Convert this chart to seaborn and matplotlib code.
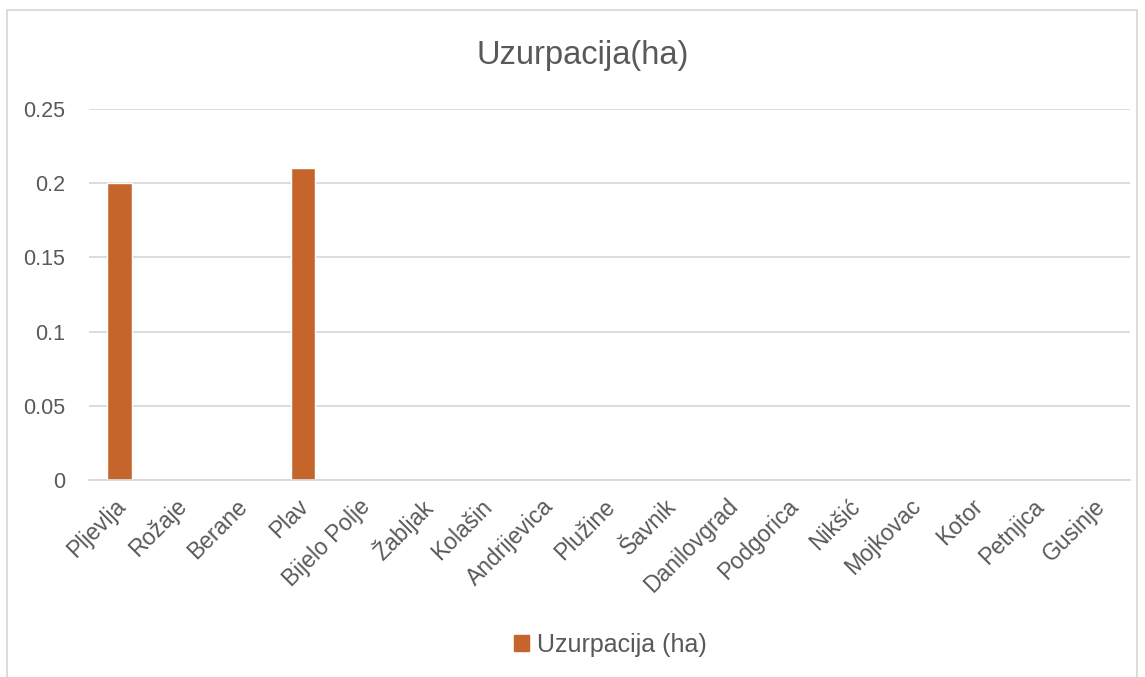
import matplotlib
matplotlib.use('Agg')
import matplotlib.pyplot as plt
import matplotlib.patches as mpatches
import seaborn as sns
import pandas as pd

# data
municipalities = ['Pljevlja', 'Rožaje', 'Berane', 'Plav', 'Bijelo Polje', 'Žabljak',
                  'Kolašin', 'Andrijevica', 'Plužine', 'Šavnik', 'Danilovgrad',
                  'Podgorica', 'Nikšić', 'Mojkovac', 'Kotor', 'Petnjica', 'Gusinje']
uzurpacija = [0.2, 0, 0, 0.21, 0, 0, 0, 0, 0, 0, 0, 0, 0, 0, 0, 0, 0]
series_name = 'Uzurpacija (ha)'
y_ticks = [0, 0.05, 0.1, 0.15, 0.2, 0.25]

df = pd.DataFrame({'opstina': municipalities, 'ha': uzurpacija})

sns.set_style('white')
plt.rcParams['font.family'] = ['Liberation Sans', 'DejaVu Sans']

text_col = '#595959'
grid_col = '#d9d9d9'
bar_col = '#c5652b'

fig = plt.figure(figsize=(11.45, 6.77), dpi=100)
ax = fig.add_axes([0.0777, 0.291, 0.909, 0.548])

sns.barplot(data=df, x='opstina', y='ha', color=bar_col, width=0.4,
            saturation=1, ax=ax, label=series_name)

ax.set_ylim(0, 0.25)
ax.set_xlim(-0.5, len(municipalities) - 0.5)
ax.set_yticks(y_ticks)
ax.set_yticklabels(['0', '0.05', '0.1', '0.15', '0.2', '0.25'])
ax.yaxis.grid(True, color=grid_col, linewidth=1.3)
ax.set_axisbelow(True)
for s in ['top', 'right', 'left']:
    ax.spines[s].set_visible(False)
ax.spines['bottom'].set_color(grid_col)
ax.spines['bottom'].set_linewidth(1.3)
ax.tick_params(axis='y', length=0, labelsize=15.5, colors=text_col, pad=17)
ax.tick_params(axis='x', length=0, labelsize=16.5, colors=text_col)
ax.set_xlabel('')
ax.set_ylabel('')
plt.setp(ax.get_xticklabels(), rotation=45, ha='right', rotation_mode='anchor')
for lab in ax.get_xticklabels():
    lab.set_transform(lab.get_transform() + matplotlib.transforms.ScaledTranslation(-0.06, -0.1, fig.dpi_scale_trans))

if ax.get_legend() is not None:
    ax.get_legend().remove()

fig.text(0.509, 0.918, 'Uzurpacija(ha)', ha='center', va='center', fontsize=23.5, color=text_col)

handle = mpatches.Patch(color=bar_col, label=series_name)
fig.legend(handles=[handle], loc='center', bbox_to_anchor=(0.533, 0.047), frameon=False,
           fontsize=18, labelcolor=text_col, handlelength=0.6, handleheight=0.6, handletextpad=0.3)

# chart frame
fig.patches.append(mpatches.Rectangle((7 / 1145, -0.05), 1130 / 1145, 1.05 - 10 / 677,
                                      transform=fig.transFigure, fill=False,
                                      edgecolor=grid_col, linewidth=1.3))

fig.savefig('out.png', dpi=100)
